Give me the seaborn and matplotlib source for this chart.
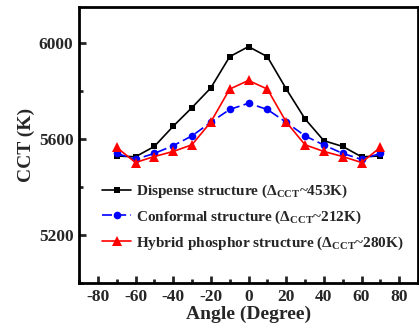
import numpy as np
import pandas as pd
import matplotlib
matplotlib.use("Agg")
import matplotlib.pyplot as plt
import seaborn as sns
from matplotlib.ticker import MultipleLocator

angles = [-70, -60, -50, -40, -30, -20, -10, 0, 10, 20, 30, 40, 50, 60, 70]
dispense = [5529, 5526, 5569, 5653, 5731, 5813, 5943, 5985, 5943, 5809, 5684, 5593, 5569, 5526, 5529]
conformal = [5540, 5515, 5540, 5572, 5613, 5670, 5723, 5749, 5723, 5670, 5613, 5575, 5540, 5515, 5540]
hybrid = [5565, 5502, 5527, 5548, 5576, 5671, 5808, 5844, 5808, 5671, 5576, 5548, 5527, 5502, 5565]

labels = [r"Dispense structure ($\Delta_{\mathrm{CCT}}$~453K)",
          r"Conformal structure ($\Delta_{\mathrm{CCT}}$~212K)",
          r"Hybrid phosphor structure ($\Delta_{\mathrm{CCT}}$~280K)"]

sns.set_style("white")
plt.rcParams['font.family'] = ['Liberation Serif', 'DejaVu Serif']
plt.rcParams['font.weight'] = 'bold'
plt.rcParams['axes.unicode_minus'] = False
plt.rcParams['mathtext.fontset'] = 'custom'
plt.rcParams['mathtext.rm'] = 'Liberation Serif:bold'
plt.rcParams['mathtext.it'] = 'Liberation Serif:bold'
plt.rcParams['mathtext.bf'] = 'Liberation Serif:bold'

fig = plt.figure(figsize=(4.19, 3.33), dpi=100)
ax = fig.add_axes([79/419, 1-283/333, (418-79)/419, (283-7)/333])

series = [
    (dispense, "black", "s", "-", 5),
    (conformal, "blue", "o", (0, (6, 2.5)), 5.5),
    (hybrid, "red", "^", "-", 6.5),
]
for (vals, col, mk, ls, ms), lab in zip(series, labels):
    df = pd.DataFrame({"angle": angles, "cct": vals})
    sns.lineplot(data=df, x="angle", y="cct", ax=ax, color=col, marker=mk,
                 linestyle=ls, markersize=ms, linewidth=1.2, markeredgewidth=0,
                 label=lab)

ax.set_xlim(-90, 90)
ax.set_ylim(5000, 6150)
ax.xaxis.set_major_locator(MultipleLocator(20))
ax.xaxis.set_minor_locator(MultipleLocator(10))
ax.yaxis.set_major_locator(MultipleLocator(400))
ax.yaxis.set_minor_locator(MultipleLocator(200))
ax.tick_params(which='major', direction='in', length=5, width=2, labelsize=12.5, pad=4)
ax.tick_params(which='minor', direction='in', length=3, width=2)
ax.tick_params(axis='x', bottom=True, which='both')
ax.tick_params(axis='y', left=True, which='both')
for lab in ax.get_xticklabels() + ax.get_yticklabels():
    lab.set_fontweight('bold')
for sp in ax.spines.values():
    sp.set_linewidth(2)
    sp.set_color('black')

ax.set_xlabel("Angle (Degree)", fontsize=14, fontweight='bold', labelpad=1)
ax.set_ylabel("CCT (K)", fontsize=14, fontweight='bold', labelpad=3)

leg = ax.legend(loc='upper left', bbox_to_anchor=(0.05, 0.385), frameon=False,
                fontsize=11, handlelength=1.9, handletextpad=0.3,
                labelspacing=0.55, borderaxespad=0)

fig.savefig("out.png", dpi=100)
